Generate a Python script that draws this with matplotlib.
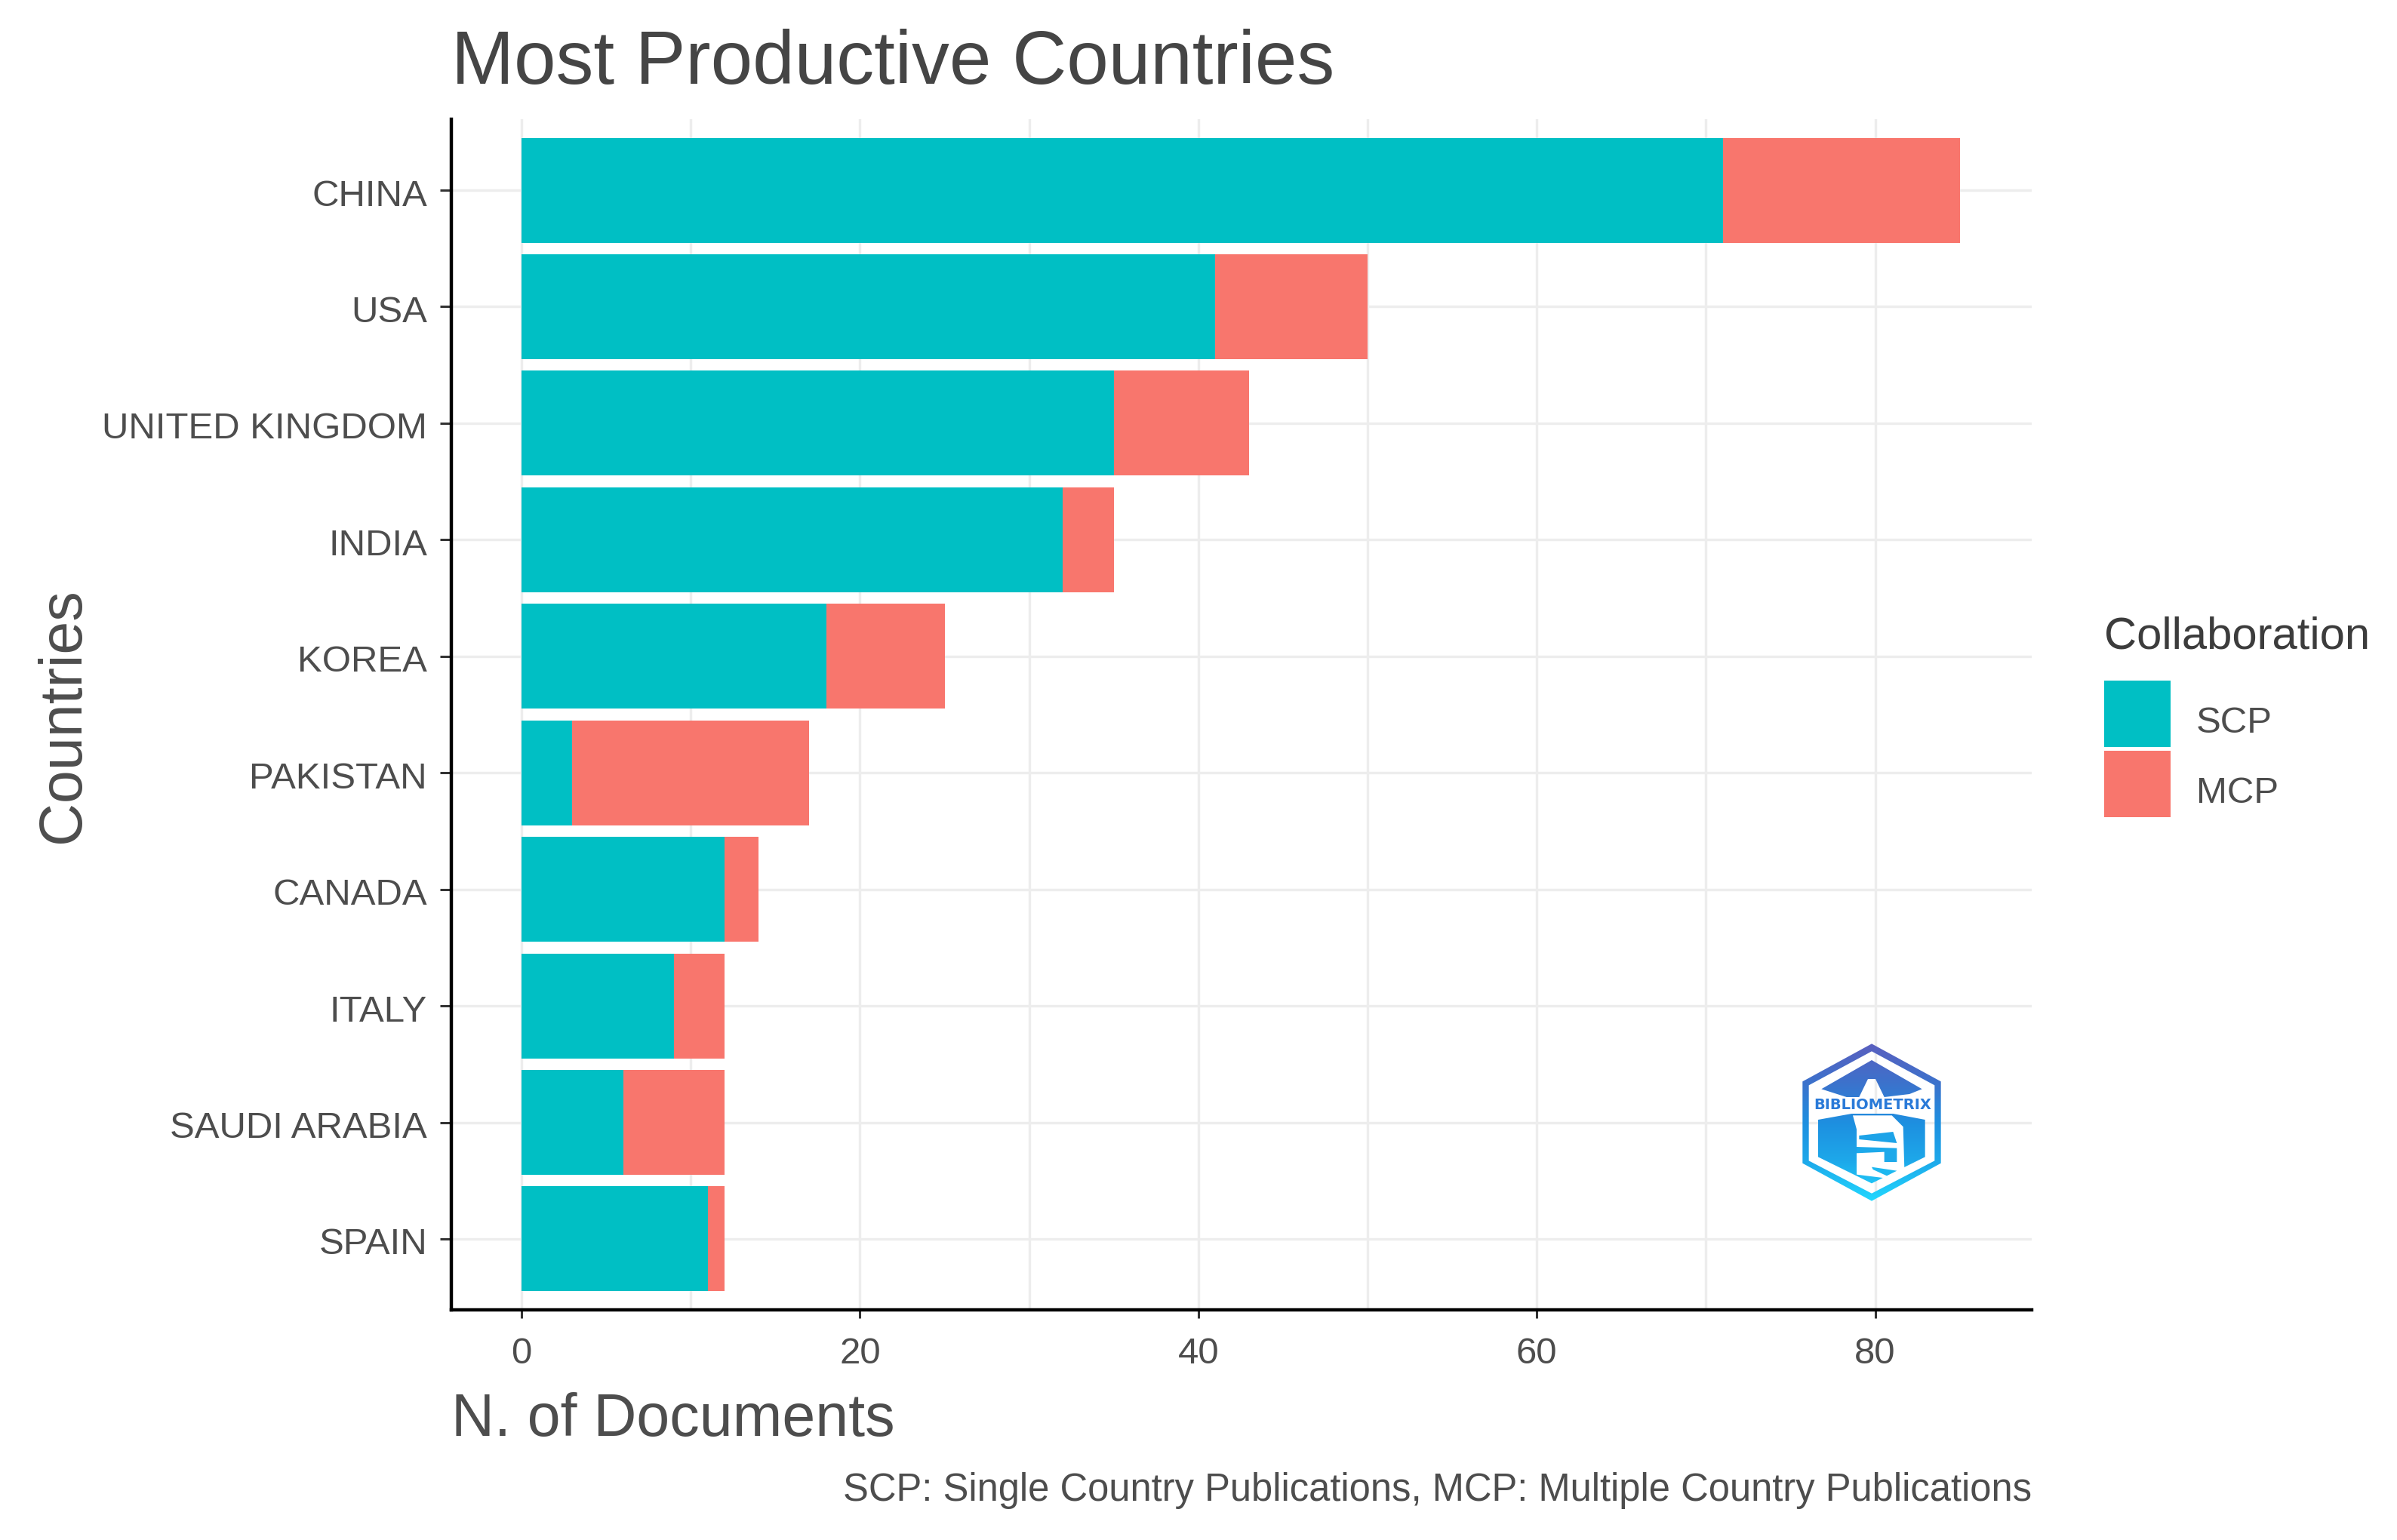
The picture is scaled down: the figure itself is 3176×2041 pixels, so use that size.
import numpy as np
import matplotlib
matplotlib.use("Agg")
import matplotlib.pyplot as plt
from matplotlib.path import Path
from matplotlib.patches import PathPatch, Polygon
from matplotlib.colors import LinearSegmentedColormap
from matplotlib.transforms import ScaledTranslation

countries = ["CHINA", "USA", "UNITED KINGDOM", "INDIA", "KOREA", "PAKISTAN",
             "CANADA", "ITALY", "SAUDI ARABIA", "SPAIN"]
scp = [71, 41, 35, 32, 18, 3, 12, 9, 6, 11]
mcp = [14, 9, 8, 3, 7, 14, 2, 3, 6, 1]
x_major = [0, 20, 40, 60, 80]
x_minor = [10, 30, 50, 70]

W, H, DPI = 3176, 2041, 200
plt.rcParams["font.family"] = ["Liberation Sans", "DejaVu Sans"]
fig = plt.figure(figsize=(W / DPI, H / DPI), dpi=DPI, facecolor="white")


def px_rect(left, top, right, bottom):
    return [left / W, 1 - bottom / H, (right - left) / W, (bottom - top) / H]


ax = fig.add_axes(px_rect(598, 158, 2692, 1736))
pos = np.arange(len(countries))[::-1]
ax.barh(pos, scp, height=0.9, color="#00BFC4", label="SCP", zorder=3)
ax.barh(pos, mcp, left=scp, height=0.9, color="#F8766D", label="MCP", zorder=3)

ax.set_xlim(-4.15, 89.25)
ax.set_ylim(-0.609, 9.609)
ax.set_yticks(pos)
ax.set_yticklabels(countries)
ax.set_xticks(x_major)
ax.set_xticks(x_minor, minor=True)
ax.grid(True, which="major", color="#EDEDED", lw=1.2, zorder=0)
ax.grid(True, which="minor", axis="x", color="#EDEDED", lw=1.2, zorder=0)
ax.set_axisbelow(True)
ax.tick_params(axis="x", which="major", length=4, width=1.1, color="#333333",
               labelcolor="#4D4D4D", labelsize=17.7, pad=9)
ax.tick_params(axis="y", which="major", length=5.5, width=1.1, color="#333333",
               labelcolor="#4D4D4D", labelsize=17.7, pad=6)
ax.tick_params(axis="x", which="minor", length=0)
offset = ScaledTranslation(0, -3 / DPI, fig.dpi_scale_trans)
for lab in ax.get_yticklabels():
    lab.set_transform(lab.get_transform() + offset)
for s in ("top", "right"):
    ax.spines[s].set_visible(False)
for s in ("left", "bottom"):
    ax.spines[s].set_linewidth(1.6)
    ax.spines[s].set_color("black")

ax.set_title("Most Productive Countries", loc="left", fontsize=35.9,
             color="#454545", pad=17)
ax.set_xlabel("N. of Documents", loc="left", fontsize=28.4, color="#4D4D4D",
              labelpad=10)
ax.set_ylabel("Countries", fontsize=28.4, color="#4D4D4D")
ax.yaxis.set_label_coords(85 / W, 1 - 948 / H, transform=fig.transFigure)
ax.yaxis.label.set_verticalalignment("center")
fig.text(2692 / W, 1 - 1975 / H,
         "SCP: Single Country Publications, MCP: Multiple Country Publications",
         ha="right", va="center", fontsize=18.26, color="#4D4D4D")

leg = ax.legend(loc="upper left", bbox_to_anchor=(2788 / W, 1 - 816 / H),
                bbox_transform=fig.transFigure, frameon=False, fontsize=17.7,
                title="Collaboration", title_fontsize=21.5, alignment="left",
                borderpad=0, borderaxespad=0, handlelength=1.78, handleheight=2.38,
                handletextpad=0.7, labelspacing=0.1, labelcolor="#4D4D4D")
leg.get_title().set_color("#3C3C3C")
leg._legend_box.sep = 11
for t in leg.get_texts():
    t.set_y(-10)

# Logo, drawn in the coordinates of a 900x780 box
lax = fig.add_axes(px_rect(2300, 1350, 2600, 1610), facecolor="none")
lax.set_xlim(0, 900)
lax.set_ylim(780, 0)
lax.axis("off")
cmap = LinearSegmentedColormap.from_list(
    "logo", ["#5A5FBF", "#3C72CC", "#1E8FE0", "#1DA9EA", "#22D8FF"])
grad = np.linspace(0, 1, 256)[:, None]


def compound(*rings):
    verts, codes = [], []
    for r in rings:
        verts += list(r) + [r[0]]
        codes += [Path.MOVETO] + [Path.LINETO] * (len(r) - 1) + [Path.CLOSEPOLY]
    return Path(verts, codes)


outer = [(540, 100), (815, 250), (815, 575), (540, 725), (265, 575), (265, 250)]
inner = [(540, 130), (290, 265), (290, 565), (540, 695), (790, 565), (790, 265)]
mountain = [(540, 165), (740, 280), (690, 300), (590, 312), (555, 240), (525, 240),
            (490, 312), (440, 312), (340, 280)]
body = [(327, 402), (460, 378), (625, 378), (752, 402), (752, 550), (540, 655),
        (327, 550)]
path = compound(outer, inner, mountain, body)
im = lax.imshow(grad, extent=(265, 815, 725, 100), cmap=cmap, aspect="auto", zorder=1)
clip = PathPatch(path, transform=lax.transData, facecolor="none", edgecolor="none")
lax.add_patch(clip)
im.set_clip_path(clip)
lax.set_xlim(0, 900)
lax.set_ylim(780, 0)
glyph = [(465, 385), (620, 385), (665, 430), (670, 600), (600, 635), (480, 620),
         (480, 440)]
lax.add_patch(Polygon(glyph, closed=True, facecolor="white", edgecolor="none", zorder=2))
for seg, col in [([(490, 465), (625, 450), (640, 495), (490, 480)], "#1DA3E8"),
                 ([(480, 510), (640, 515), (640, 570), (590, 570), (590, 530), (480, 535)], "#1DA9EA"),
                 ([(540, 590), (640, 605), (600, 625), (545, 600)], "#1DB8F0")]:
    lax.add_patch(Polygon(seg, closed=True, facecolor=col, edgecolor="none", zorder=3))
lax.text(545, 345, "BIBLIOMETRIX", ha="center", va="center", fontsize=7,
         fontweight="bold", color="#2A7AD8", zorder=4, family="DejaVu Sans")

fig.savefig("out.png", dpi=DPI)
